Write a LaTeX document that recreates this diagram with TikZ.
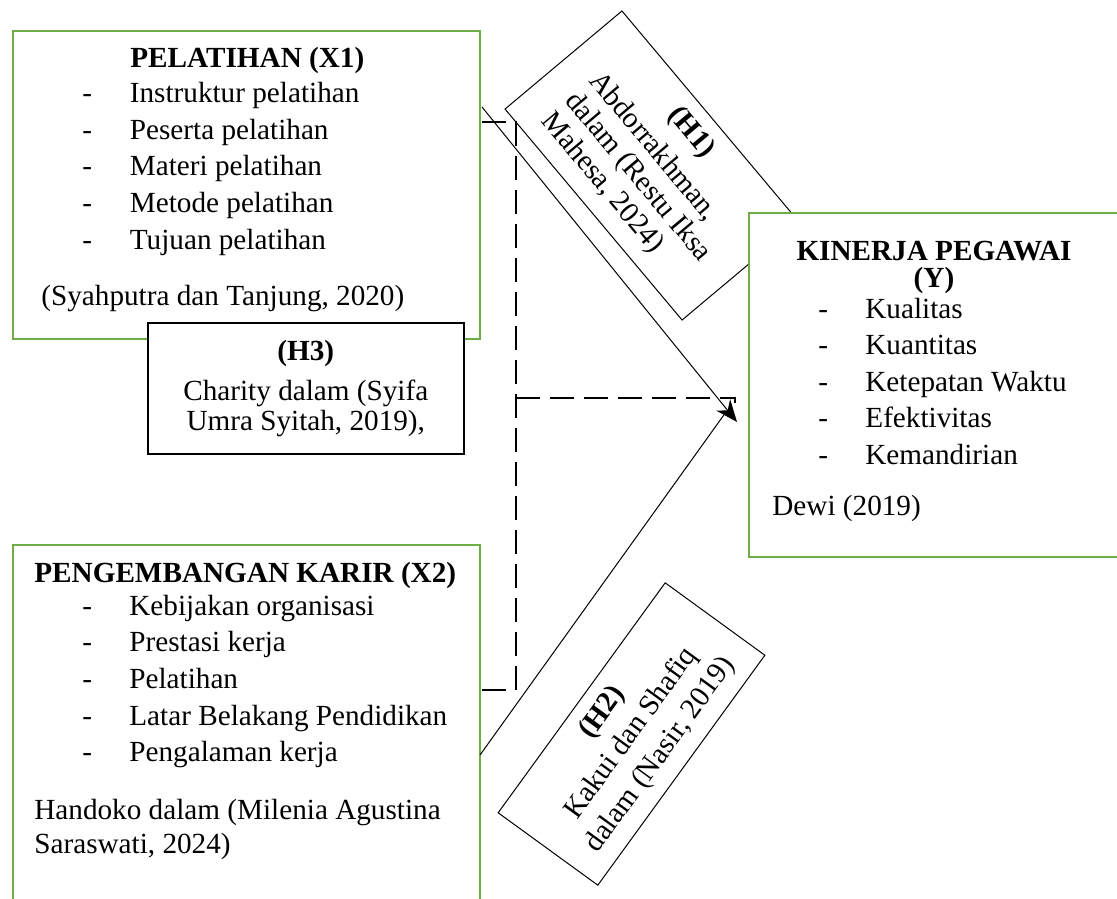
\documentclass[tikz,border=0pt]{standalone}
\usepackage{fontspec}
\setmainfont{Liberation Serif}
\usetikzlibrary{arrows.meta}
\definecolor{boxgreen}{RGB}{112,173,71}
\newcommand{\bodyfont}{\fontsize{14.6}{18.3}\selectfont}

\begin{document}
\begin{tikzpicture}[x=0.5pt, y=-0.5pt, >=Stealth,
    varbox/.style={draw=boxgreen, line width=1.1pt, fill=white, anchor=north west, inner sep=0pt},
    hypbox/.style={draw=black, line width=0.5pt, fill=white, inner sep=0pt},
    txt/.style={anchor=base west, inner sep=0pt, font=\bodyfont},
    head/.style={anchor=base, inner sep=0pt, font=\bodyfont\bfseries},
    link/.style={line width=0.5pt},
    dashlink/.style={line width=1.3pt, dash pattern=on 12pt off 5pt}]

    \clip (0,0) rectangle (1117,898);

    % Pelatihan (X1)
    \node[varbox, minimum width=233.5pt, minimum height=154pt] (x1) at (12,30) {};
    \node[txt, font=\bodyfont\bfseries] (x1head) at (130,68) {PELATIHAN (X1)};
    \foreach \t [count=\i, evaluate=\i as \y using 102.7+36.6*(\i-1)] in
        {Instruktur pelatihan, Peserta pelatihan, Materi pelatihan, Metode pelatihan, Tujuan pelatihan} {
        \node[txt] (x1dash\i) at (82,\y) {-};
        \node[txt] (x1item\i) at (129.5,\y) {\t};
    }
    \node[txt] (x1src) at (41,306) {(Syahputra dan Tanjung, 2020)};

    % Hipotesis 1
    \node[hypbox, rotate=-50, minimum width=137.7pt, minimum height=76.3pt,
        font=\fontsize{14.6}{15.5}\selectfont] (h1) at (652,165.5)
        {\begin{tabular}{@{}l@{}}\multicolumn{1}{@{}c@{}}{\textbf{(H1)}}\\[4pt]
        Abdorrakhman,\\ dalam (Restu Iksa\\ Mahesa, 2024)\end{tabular}};

    % Kinerja pegawai (Y)
    \node[varbox, minimum width=200pt, minimum height=172pt] (kinerja) at (748,212) {};
    \node[head] (yhead) at (934,261) {KINERJA PEGAWAI};
    \node[head] (yvar) at (934,287) {(Y)};
    \foreach \t [count=\i, evaluate=\i as \y using 318+36.5*(\i-1)] in
        {Kualitas, Kuantitas, Ketepatan Waktu, Efektivitas, Kemandirian} {
        \node[txt] (ydash\i) at (818,\y) {-};
        \node[txt] (yitem\i) at (865,\y) {\t};
    }
    \node[txt] (ysrc) at (772,515) {Dewi (2019)};

    % Hipotesis 3
    \node[hypbox, line width=0.8pt, anchor=north west, minimum width=158pt, minimum height=65.5pt,
        align=center, font=\fontsize{14.6}{15}\selectfont] (h3) at (147,322)
        {\textbf{(H3)}\\[5pt] Charity dalam (Syifa\\ Umra Syitah, 2019),};

    % Pengembangan karir (X2)
    \node[varbox, minimum width=233.5pt, minimum height=200pt] (x2) at (12,544) {};
    \node[txt, font=\bodyfont\bfseries] (x2head) at (34,582) {PENGEMBANGAN KARIR (X2)};
    \foreach \t [count=\i, evaluate=\i as \y using 615+36.7*(\i-1)] in
        {Kebijakan organisasi, Prestasi kerja, Pelatihan, Latar Belakang Pendidikan, Pengalaman kerja} {
        \node[txt] (x2dash\i) at (82,\y) {-};
        \node[txt] (x2item\i) at (129,\y) {\t};
    }
    \node[txt] (x2src) at (34,819) {Handoko dalam (Milenia Agustina};
    \node[txt] (x2src2) at (34,853) {Saraswati, 2024)};

    % Hipotesis 2
    \node[hypbox, rotate=54, minimum width=142.1pt, minimum height=61.6pt,
        align=center, font=\fontsize{14.6}{18}\selectfont] (h2) at (631.5,734)
        {\textbf{(H2)}\\ Kakui dan Shafiq\\ dalam (Nasir, 2019)};

    % Connectors
    \coordinate (x1out) at (482,107);
    \coordinate (ytip) at (737,422);
    \coordinate (x2out) at (480,755);
    \coordinate (x2end) at (726,412);
    \draw[link, -{Stealth[length=11pt, width=9pt]}] (x1out) -- (ytip);
    \draw[link] (x2out) -- (x2end);

    % Simultaneous (dashed)
    \coordinate (d1) at (482,122);
    \coordinate (d2) at (516,122);
    \coordinate (d3) at (516,690);
    \coordinate (d4) at (482,690);
    \coordinate (d5) at (516,398);
    \coordinate (d6) at (735,398);
    \draw[dashlink] (d1) -- (d2) -- (d3) -- (d4);
    \draw[dashlink] (d5) -- (d6) -- ++(0,5);
\end{tikzpicture}
\end{document}
